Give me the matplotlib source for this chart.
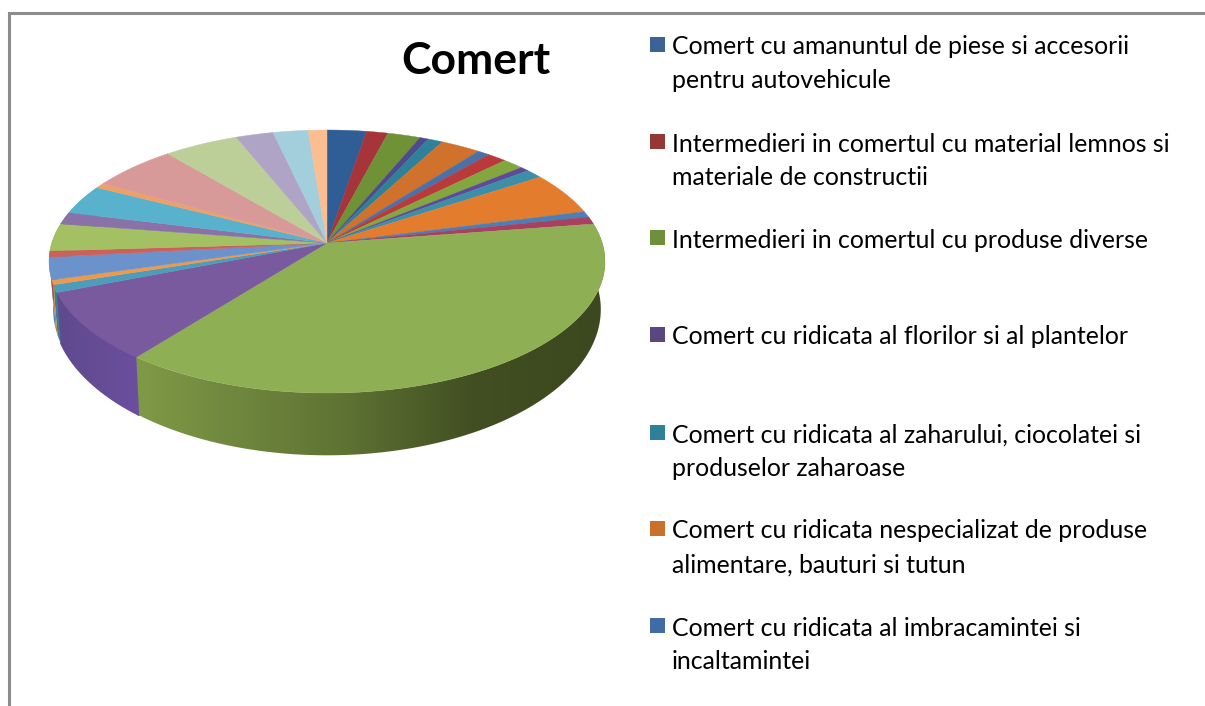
import numpy as np
import matplotlib
matplotlib.use("Agg")
import matplotlib.pyplot as plt
from matplotlib.patches import Polygon, Rectangle
from matplotlib.colors import LinearSegmentedColormap, to_rgb

title = "Comert"
shares = [2.62, 1.43, 2.20, 0.56, 1.00, 2.67, 0.81, 1.28, 1.42, 0.58, 1.14, 5.25, 0.72, 0.92,
          37.97, 8.50, 0.92, 0.58, 2.72, 0.75, 3.39, 1.50, 3.64, 0.64, 5.72, 5.00, 2.50, 2.33, 1.25]
slice_colors = ["#2F5E97", "#A5353A", "#6F9237", "#4E4A8C", "#2F8099", "#D0722B", "#4C70A8", "#B93A3A",
                "#84A63E", "#5D4A9A", "#3C8FA6", "#E47C2E", "#4B7FB8", "#A8405F", "#8FAF55", "#7A5A9E",
                "#4B9DBB", "#EE9A4D", "#6C92CC", "#CE5F5A", "#A3C063", "#8A72A8", "#58B2CE", "#F0A066",
                "#D89A98", "#BCCF98", "#AFA4C6", "#A3CEDB", "#FBBE91"]
legend_labels = [
    "Comert cu amanuntul de piese si accesorii\npentru autovehicule",
    "Intermedieri in comertul cu material lemnos si\nmateriale de constructii",
    "Intermedieri in comertul cu produse diverse",
    "Comert cu ridicata al florilor si al plantelor",
    "Comert cu ridicata al zaharului, ciocolatei si\nproduselor zaharoase",
    "Comert cu ridicata nespecializat de produse\nalimentare, bauturi si tutun",
    "Comert cu ridicata al imbracamintei si\nincaltamintei",
]
legend_colors = ["#3A6496", "#953735", "#6F8F3A", "#5B4680", "#2F8099", "#C8702C", "#3F6CA5"]
legend_rows = [45, 142, 238, 335, 433, 529, 626]

CX, CY, RX, RY, K, DEPTH = 327.0, 243.0, 275.2, 128.9, 0.1407, 46.0


def rim(phi):
    """Perspective projection of a clockwise-from-top angle on the pie's top face."""
    u, v = np.sin(phi), np.cos(phi)
    w = 1 + K * v
    return CX + RX * u / w, CY - RY * v / w, w


fig = plt.figure(figsize=(12.05, 7.06), dpi=100)
ax = fig.add_axes([0, 0, 1, 1])
ax.set_xlim(0, 1205)
ax.set_ylim(706, 0)
ax.axis("off")

# frame
ax.plot([8.5, 8.5, 1205], [706, 13, 13], color="#8C8C8C", lw=2.2, solid_joinstyle="miter", zorder=1)

edges = np.cumsum([0] + shares) / np.sum(shares) * 2 * np.pi
green_cmap = LinearSegmentedColormap.from_list(
    "side", [(0, "#7F9A47"), (0.45, "#5E7233"), (0.72, "#414F22"), (1, "#3C481E")])
purple_cmap = LinearSegmentedColormap.from_list("sidep", ["#5F4A8C", "#6B4E9E"])

for i, col in enumerate(slice_colors):
    a, b = edges[i], edges[i + 1]
    t = np.linspace(a, b, 200)
    x, y, w = rim(t)
    # side wall
    if b > np.radians(80) and a < np.radians(285):
        xb = CX + (x - CX) * 0.985
        yb = y + DEPTH / w ** 2
        side = np.column_stack([np.r_[x, xb[::-1]], np.r_[y, yb[::-1]]])
        if shares[i] > 8:
            is_green = shares[i] > 20
            cmap = green_cmap if is_green else purple_cmap
            lo, hi = (135, 605) if is_green else (55, 135)
            if not is_green:
                ax.add_patch(Polygon(side, closed=True, fc=cmap(1.0), ec=cmap(1.0), lw=1.0, zorder=1.9))
            poly = Polygon(side, closed=True, fc="none", ec="none", zorder=2)
            ax.add_patch(poly)
            im = ax.imshow(np.linspace(0, 1, 256)[None, :], extent=(lo, hi, 470, 200), cmap=cmap,
                           aspect="auto", zorder=2.1)
            im.set_clip_path(poly)
        else:
            r, g, b_ = to_rgb(col)
            ax.add_patch(Polygon(side, closed=True, fc=(r * .8, g * .8, b_ * .8), ec="none", zorder=2))
    # top face
    ax.add_patch(Polygon(np.column_stack([np.r_[CX, x], np.r_[CY, y]]), closed=True, fc=col,
                         ec=col, lw=0.3, zorder=3))

ax.set_xlim(0, 1205)
ax.set_ylim(706, 0)

ax.text(475.5, 61, title, family="Lato", weight="bold", fontsize=32, color="black",
        ha="center", va="center", zorder=5)

for label, col, row in zip(legend_labels, legend_colors, legend_rows):
    ax.add_patch(Rectangle((650, row - 8), 15, 15, fc=col, ec="none", zorder=5))
    ax.text(672, row - 9.5, label, family="Lato", fontsize=17.9, color="black", ha="left", va="top",
            linespacing=1.57, zorder=5)

fig.savefig("out.png", dpi=100)
